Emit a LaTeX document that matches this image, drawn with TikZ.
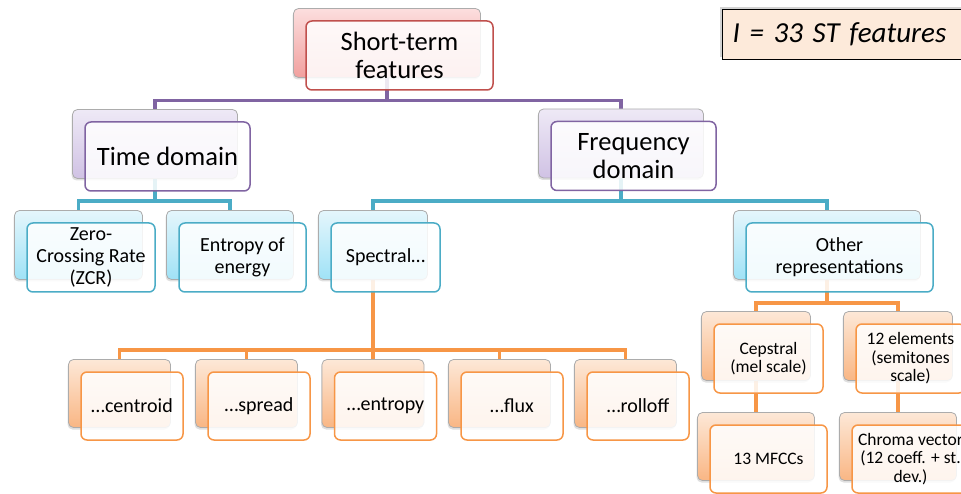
\documentclass[tikz,border=0pt]{standalone}
\usepackage{fontspec}
\setmainfont{Carlito}
\usetikzlibrary{shadows,calc}
\pgfdeclarelayer{background}
\pgfsetlayers{background,main}
\definecolor{redB}{RGB}{192,80,77}
\definecolor{redT}{RGB}{252,222,222}
\definecolor{redD}{RGB}{241,160,158}
\definecolor{purB}{RGB}{128,100,162}
\definecolor{purT}{RGB}{238,233,246}
\definecolor{purD}{RGB}{208,194,228}
\definecolor{bluB}{RGB}{75,172,198}
\definecolor{bluT}{RGB}{228,246,252}
\definecolor{bluD}{RGB}{160,226,246}
\definecolor{oraB}{RGB}{247,150,70}
\definecolor{oraT}{RGB}{253,232,215}
\definecolor{oraD}{RGB}{249,182,132}
\definecolor{peach}{RGB}{253,234,218}
\tikzset{
  backbase/.style={draw=gray!65, line width=0.8pt, rounded corners=5pt, inner sep=0pt, outer sep=0pt,
    drop shadow={opacity=0.25, shadow xshift=-1pt, shadow yshift=-2pt}},
  frontbase/.style={line width=1.5pt, rounded corners=6pt, fill=white, fill opacity=0.86, text opacity=1,
    align=center, inner sep=1pt, outer sep=0pt},
  redback/.style={backbase, top color=redT, bottom color=redD},
  redfront/.style={frontbase, draw=redB},
  purback/.style={backbase, top color=purT, bottom color=purD},
  purfront/.style={frontbase, draw=purB},
  bluback/.style={backbase, top color=bluT, bottom color=bluD},
  blufront/.style={frontbase, draw=bluB},
  oraback/.style={backbase, top color=oraT, bottom color=oraD},
  orafront/.style={frontbase, draw=oraB},
  fA/.style={font=\fontsize{26.5}{28.5}\selectfont},
  fB/.style={font=\fontsize{20}{22}\selectfont},
  fC/.style={font=\fontsize{17.5}{18.5}\selectfont},
  conn/.style={line width=3.3pt},
}
% name, x, y, width, height, level, font style, text
\newcommand\bpair[8]{%
  \node[#6back, minimum width=#4pt, minimum height=#5pt] (#1b) at ({#2-12.5},{#3-12.5}) {};
  \node[#6front, #7, minimum width=#4pt, minimum height=#5pt] (#1) at (#2,#3) {#8};}
\begin{document}
\begin{tikzpicture}[x=1pt,y=-1pt]
\useasboundingbox (0,0) rectangle (961,494);
\clip (0,0) rectangle (961,494);

\bpair{top}{399.5}{55.5}{187}{69}{red}{fA}{Short-term\\features}
\bpair{time}{167.5}{156.5}{165}{69}{pur}{fA}{Time domain}
\bpair{freq}{633.5}{156}{165}{69}{pur}{fA}{Frequency\\domain}
\bpair{zcr}{91}{257.5}{128}{69}{blu}{fB}{Zero-\\Crossing Rate\\(ZCR)}
\bpair{ent}{242.5}{257.5}{127}{69}{blu}{fB}{Entropy of\\energy}
\bpair{spec}{385.5}{257.5}{109}{69}{blu}{fB}{Spectral…}
\bpair{other}{839.5}{257.5}{187}{69}{blu}{fB}{Other\\representations}
\bpair{cen}{132}{406}{102}{68}{ora}{fB}{…centroid}
\bpair{spr}{259}{406}{102}{68}{ora}{fB}{…spread}
\bpair{sent}{385.5}{406}{102}{68}{ora}{fB}{…entropy}
\bpair{flux}{512}{406}{102}{68}{ora}{fB}{…flux}
\bpair{roll}{638}{406}{102}{68}{ora}{fB}{…rolloff}
\bpair{ceps}{768.5}{358.5}{109}{69}{ora}{fC}{Cepstral\\(mel scale)}
\bpair{twelve}{910.5}{358.5}{109}{69}{ora}{fC}{12 elements\\(semitones\\scale)}
\bpair{mfcc}{768.5}{459}{117}{68}{ora}{fC}{13 MFCCs}
\bpair{chroma}{910.5}{459}{117}{68}{ora}{fC}{Chroma vector\\(12 coeff. + st.\\dev.)}

\node[draw=black, line width=1.2pt, fill=peach, anchor=north west, minimum height=50pt,
      text width=240pt, inner xsep=10pt, align=left, font=\fontsize{29}{32}\itshape,
      drop shadow={opacity=0.35, shadow xshift=-3pt, shadow yshift=3pt}] (st) at (722,9) {I = 33 ST features};

\coordinate (b1) at (0,100.5);
\coordinate (b2) at (0,201);
\coordinate (b3) at (0,350);
\coordinate (b4) at (0,303);

\begin{pgfonlayer}{background}
\draw[conn, purB] (topb.south) -- (topb.south |- b1) -| (timeb.north);
\draw[conn, purB] (topb.south |- b1) -| (freqb.north);
\draw[conn, bluB] (timeb.south) -- (timeb.south |- b2) -| (zcrb.north);
\draw[conn, bluB] (timeb.south |- b2) -| (entb.north);
\draw[conn, bluB] (freqb.south) -- (freqb.south |- b2) -| (specb.north);
\draw[conn, bluB] (freqb.south |- b2) -| (otherb.north);
\draw[conn, oraB] (specb.south) -- (specb.south |- b3) -| (cenb.north);
\draw[conn, oraB] (specb.south |- b3) -| (sprb.north);
\draw[conn, oraB] (specb.south |- b3) -- (sentb.north);
\draw[conn, oraB] (specb.south |- b3) -| (fluxb.north);
\draw[conn, oraB] (specb.south |- b3) -| (rollb.north);
\draw[conn, oraB] (otherb.south) -- (otherb.south |- b4) -| (cepsb.north);
\draw[conn, oraB] (otherb.south |- b4) -| (twelveb.north);
\draw[conn, oraB] (cepsb.south) -- (cepsb.south |- mfccb.north);
\draw[conn, oraB] (twelveb.south) -- (twelveb.south |- chromab.north);
\end{pgfonlayer}
\end{tikzpicture}
\end{document}
